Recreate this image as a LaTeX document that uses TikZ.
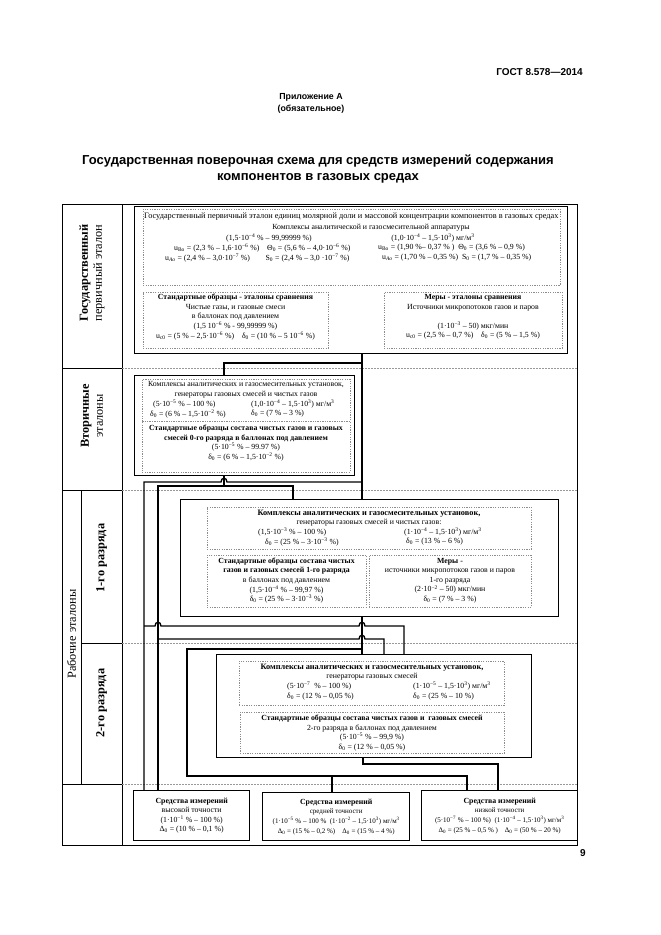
\documentclass[tikz,border=0pt]{standalone}
\usepackage{fontspec}
\setmainfont{Liberation Serif}
\newfontfamily\headfont{Liberation Sans}
\newcommand\pw[1]{\textsuperscript{#1}}
\newcommand\ixs[1]{\textsubscript{#1}}
\newcommand\smf{\fontsize{7.8}{9.6}\selectfont}
\tikzset{
  wh/.style 2 args={minimum width=#1pt, minimum height=#2pt},
  frame/.style={draw, line width=1.4pt, inner sep=0pt, anchor=north west},
  dbox/.style={draw=black!45, dash pattern=on 1.2pt off 1.2pt, line width=.4pt, inner sep=0pt, anchor=north west},
  link/.style={line width=1.4pt},
  rule/.style={line width=.6pt},
  sepline/.style={draw=black!40, dash pattern=on 1.5pt off 1.5pt, line width=.4pt},
  tx/.style={font=\smf, inner sep=0pt, align=center},
  txw/.style={tx, anchor=west},
  lab/.style={rotate=90, inner sep=0pt, align=center, font=\fontsize{12.3}{14}\selectfont},
  headtxt/.style={font=\headfont\bfseries\fontsize{10}{12}\selectfont, inner sep=0pt, align=center},
}
\begin{document}
\begin{tikzpicture}[x=1pt, y=-1pt]
\useasboundingbox (0,0) rectangle (661,935);

% page head and title
\node[headtxt, anchor=east] (gost) at (583,72) {ГОСТ 8.578—2014};
\node[headtxt, font=\headfont\bfseries\fontsize{8.8}{12}\selectfont] (app) at (311,103) {Приложение А\\(обязательное)};
\node[headtxt, font=\headfont\bfseries\fontsize{13}{16}\selectfont] (ttl) at (318,169)
  {Государственная поверочная схема для средств измерений содержания\\компонентов в газовых средах};

% table
\draw[rule] (62,204) rectangle (577,845);
\draw[rule] (122,204) -- (122,845);
\draw[rule] (62,368) -- (122,368);
\draw[rule] (62,490) -- (122,490);
\draw[rule] (81,490) -- (81,784);
\draw[rule] (81,643) -- (122,643);
\draw[rule] (62,784) -- (122,784);
\foreach \yy in {368,490,643,784}
  \draw[sepline] (122,\yy) -- (577,\yy);

\node[lab] (lg) at (92,273) {\textbf{Государственный}\\первичный эталон};
\node[lab] (lv) at (92,416) {\textbf{Вторичные}\\эталоны};
\node[lab] (lw) at (71.5,634) {Рабочие эталоны};
\node[lab] (l1) at (101.5,558) {\textbf{1-го разряда}};
\node[lab] (l2) at (101.5,703) {\textbf{2-го разряда}};

% primary standard
\node[frame, wh={433}{147}] (prim) at (134,206) {};
\node[dbox, wh={417}{76}] (pa) at (143,209) {};
\node[dbox, wh={185}{56}] (pb) at (143,292) {};
\node[dbox, wh={178}{56}] (pc) at (384,292) {};
\node[txw, font=\fontsize{8.3}{9.6}\selectfont] (pa1) at (144,217) {Государственный первичный эталон единиц молярной доли и массовой концентрации компонентов в газовых средах};
\node[tx] (pa2) at (371,227.5) {Комплексы аналитической и газосмесительной аппаратуры};
\node[tx] (pa3) at (269,238) {(1,5·10\pw{−4} \% – 99,99999 \%)};
\node[tx] (pa4) at (433,238) {(1,0·10\pw{−4} – 1,5·10\pw{3}) мг/м\pw{3}};
\node[txw] (pa5) at (174,248) {u\ixs{Bo} = (2,3 \% – 1,6·10\pw{−6} \%)\quad Θ\ixs{0} = (5,6 \% – 4,0·10\pw{−6} \%)};
\node[txw] (pa6) at (378,248) {u\ixs{Bo} = (1,90 \%– 0,37 \% )\enspace Θ\ixs{0} = (3,6 \% – 0,9 \%)};
\node[txw] (pa7) at (165,258) {u\ixs{\itshape Ao} = (2,4 \% – 3,0·10\pw{−7} \%)\qquad S\ixs{0} = (2,4 \% – 3,0 ·10\pw{−7} \%)};
\node[txw] (pa8) at (382,258) {u\ixs{\itshape Ao} = (1,70 \% – 0,35 \%)\enspace S\ixs{0} = (1,7 \% – 0,35 \%)};
\node[tx] (pb1) at (235.5,317) {\textbf{Стандартные образцы - эталоны сравнения}\\Чистые газы, и газовые смеси\\в баллонах под давлением\\(1,5 10\pw{−6} \% - 99,99999 \%)\\u\ixs{c0} = (5 \% – 2,5·10\pw{−6} \%)\quad δ\ixs{0} = (10 \% – 5 10\pw{−6} \%)};
\node[tx] (pc1) at (473,317) {\textbf{Меры - эталоны сравнения}\\Источники микропотоков газов и паров\\[9.6pt](1·10\pw{−3} – 50) мкг/мин\\u\ixs{c0} = (2,5 \% – 0,7 \%)\quad δ\ixs{0} = (5 \% – 1,5 \%)};

% secondary standards
\node[frame, wh={220}{100}] (sec) at (134,375) {};
\node[dbox, wh={208}{42}] (sa) at (142,379) {};
\node[dbox, wh={208}{51}] (sb) at (142,421) {};
\node[tx] (sa1) at (246,390) {Комплексы аналитических и газосмесительных установок,\\генераторы газовых смесей и чистых газов};
\node[txw] (sa2) at (153,404) {(5·10\pw{−5} \% – 100 \%)};
\node[txw] (sa3) at (251,404) {(1,0·10\pw{−4} – 1,5·10\pw{3}) мг/м\pw{3}};
\node[txw] (sa4) at (150,414) {δ\ixs{0} = (6 \% – 1,5·10\pw{−2} \%)};
\node[txw] (sa5) at (251,414) {δ\ixs{0} = (7 \% – 3 \%)};
\node[tx] (sb1) at (246,443) {\textbf{Стандартные образцы состава чистых газов и газовых}\\\textbf{смесей 0-го разряда в баллонах под давлением}\\(5·10\pw{−5} \% – 99.97 \%)\\δ\ixs{0} = (6 \% – 1,5·10\pw{−2} \%)};

% working standards, 1st rank
\node[frame, wh={378}{117}] (r1) at (180,499) {};
\node[dbox, wh={324}{42}] (ra) at (207,507) {};
\node[dbox, wh={159}{52}] (rb) at (207,555) {};
\node[dbox, wh={162}{52}] (rc) at (369,555) {};
\node[tx] (ra1) at (369,518) {\textbf{\fontsize{8.3}{9.6}\selectfont Комплексы аналитических и газосмесительных установок,}\\генераторы газовых смесей и чистых газов:};
\node[txw] (ra2) at (258,532) {(1,5·10\pw{−3} \% – 100 \%)};
\node[txw] (ra3) at (404,532) {(1·10\pw{−4} – 1,5·10\pw{3}) мг/м\pw{3}};
\node[txw] (ra4) at (265,542) {δ\ixs{0} = (25 \% – 3·10\pw{−3} \%)};
\node[txw] (ra5) at (406,542) {δ\ixs{0} = (13 \% – 6 \%)};
\node[tx] (rb1) at (286.5,580.5) {\textbf{Стандартные образцы состава чистых}\\\textbf{газов и газовых смесей 1-го разряда}\\в баллонах под давлением\\(1,5·10\pw{−4} \% – 99,97 \%)\\δ\ixs{0} = (25 \% – 3·10\pw{−3} \%)};
\node[tx] (rc1) at (450,580.5) {\textbf{Меры -}\\источники микропотоков газов и паров\\1-го разряда\\(2·10\pw{−2} – 50) мкг/мин\\δ\ixs{0} = (7 \% – 3 \%)};

% working standards, 2nd rank
\node[frame, wh={315}{103}] (r2) at (216,654) {};
\node[dbox, wh={265}{44}] (qa) at (239,661) {};
\node[dbox, wh={264}{41}] (qb) at (240,712) {};
\node[tx] (qa1) at (372,672) {\textbf{\fontsize{8.3}{9.6}\selectfont Комплексы аналитических и газосмесительных установок,}\\генераторы газовых смесей};
\node[txw] (qa2) at (287,686) {(5·10\pw{−7} \ \% – 100 \%)};
\node[txw] (qa3) at (413,686) {(1·10\pw{−5} – 1,5·10\pw{3}) мг/м\pw{3}};
\node[txw] (qa4) at (287,697) {δ\ixs{0} = (12 \% – 0,05 \%)};
\node[txw] (qa5) at (413,697) {δ\ixs{0} = (25 \% – 10 \%)};
\node[tx] (qb1) at (372,733) {\textbf{Стандартные образцы состава чистых газов и \ газовых смесей}\\2-го разряда в баллонах под давлением\\(5·10\pw{−5} \% – 99,9 \%)\\δ\ixs{0} = (12 \% – 0,05 \%)};

% measuring instruments
\node[frame, wh={116}{50}] (hi) at (133,790) {};
\node[frame, wh={147}{48}] (mid) at (262,792) {};
\node[frame, wh={156}{50}] (lo) at (421,790) {};
\node[tx] (hi1) at (hi.center) {\textbf{Средства измерений}\\высокой точности\\(1·10\pw{−1} \% – 100 \%)\\Δ\ixs{0} = (10 \% – 0,1 \%)};
\node[tx, font=\fontsize{7}{9.6}\selectfont] (mid1) at (mid.center) {\textbf{\fontsize{7.8}{9.6}\selectfont Средства измерений}\\средней точности\\(1·10\pw{−5} \% – 100 \%\enspace(1·10\pw{−2} – 1,5·10\pw{3}) мг/м\pw{3}\\Δ\ixs{0} = (15 \% – 0,2 \%)\quad Δ\ixs{0} = (15 \% – 4 \%)};
\node[tx, font=\fontsize{7}{9.6}\selectfont] (lo1) at (lo.center) {\textbf{\fontsize{7.8}{9.6}\selectfont Средства измерений}\\низкой точности\\(5·10\pw{−7} \% – 100 \%)\enspace(1·10\pw{−4} – 1,5·10\pw{3}) мг/м\pw{3}\\Δ\ixs{0} = (25 \% – 0,5 \% )\quad Δ\ixs{0} = (50 \% – 20 \%)};

% links
\coordinate (ka) at (144,0);
\coordinate (kb) at (158,0);
\coordinate (ks) at (224,0);
\coordinate (kt) at (362,0);
\draw[link] (prim.south -| kt) -- (r1.north -| kt);
\draw[link] (kt |- 0,363) -| (sec.north -| ks);
\draw[link] (kt |- 0,482) -- (227,482) .. controls (227,477) and (221,477) .. (221,482) -| (hi.north -| ka);
\draw[link] (sec.south -| ks) -- (ks |- 0,486);
\draw[link] (hi.north -| kb) |- (293,486) -- (r1.north -| 293,0);
\draw[link] (ka |- 0,626) -- (155,626) .. controls (155,621) and (161,621) .. (161,626)
  -- (359,626) .. controls (359,621) and (365,621) .. (365,626) -| (r2.north -| 404,0);
\draw[link] (kb |- 0,639) -- (359,639) .. controls (359,634) and (365,634) .. (365,639) -| (r2.north -| 384,0);
\draw[link] (r1.south -| kt) -- (r2.north -| kt);
\draw[link] (kt |- 0,649) -| (187,776) -| (lo.north -| 467,0);
\draw[link] (332,776) -- (mid.north -| 332,0);
\draw[link] (r2.south -| 363,0) -- (363,764) -| (lo.north -| 498,0);

\node[headtxt] (pg) at (583,853) {9};
\end{tikzpicture}
\end{document}
